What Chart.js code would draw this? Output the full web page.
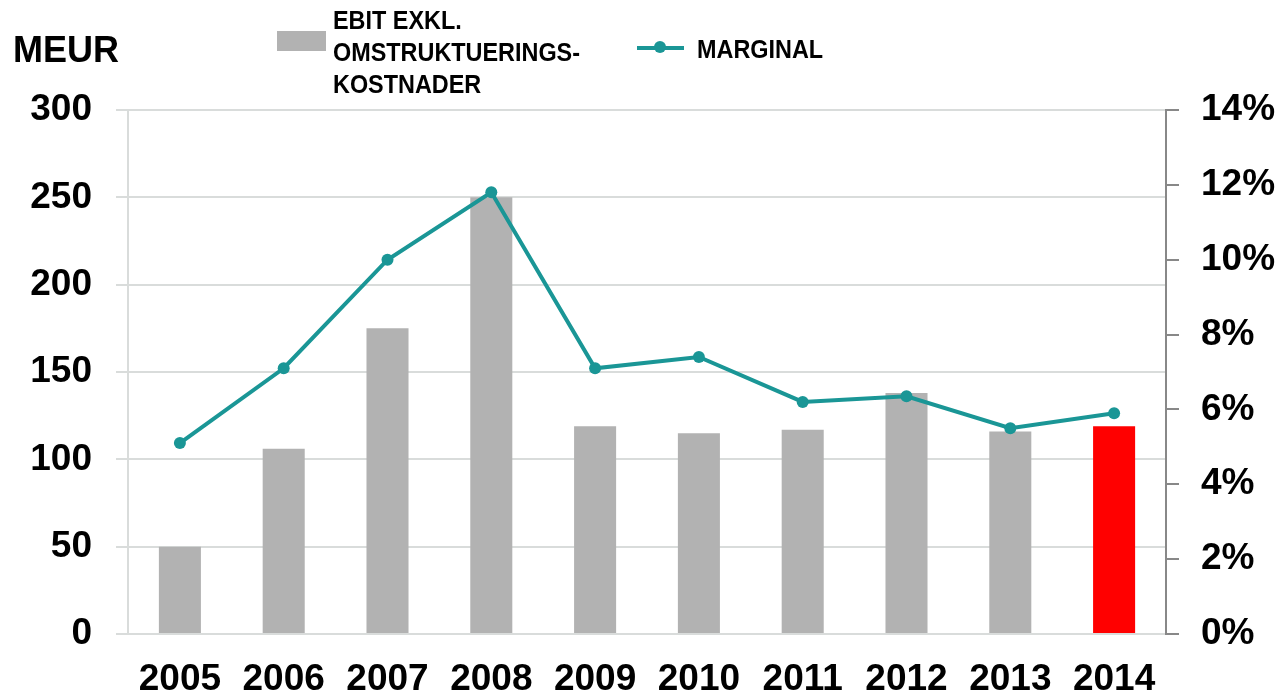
<!DOCTYPE html>
<html lang="sv">
<head>
  <meta charset="UTF-8">
  <title>EBIT och marginal 2005-2014</title>
  <script src="https://cdn.jsdelivr.net/npm/chart.js"></script>
  <style>
    html, body { margin: 0; padding: 0; background: #fff; }
    #wrap { position: relative; width: 1279px; height: 698px; }
  </style>
</head>
<body>
  <div id="wrap">
    <canvas id="myChart" width="1279" height="698"></canvas>
  </div>

  <script>
    // Data
    const years = ['2005', '2006', '2007', '2008', '2009', '2010', '2011', '2012', '2013', '2014'];
    const ebit = [50, 106, 175, 250, 119, 115, 117, 138, 116, 119];
    const margin = [5.1, 7.1, 10.0, 11.8, 7.1, 7.4, 6.2, 6.35, 5.5, 5.9];
    const leftTicks = [0, 50, 100, 150, 200, 250, 300];
    const rightTicks = [0, 2, 4, 6, 8, 10, 12, 14];

    const barGrey = '#b2b2b2';
    const teal = '#1a9696';
    const barColors = years.map((y, i) => i === years.length - 1 ? '#ff0000' : barGrey);

    const tickFont = { family: 'Liberation Sans, Arial, sans-serif', size: 37, weight: 'bold' };

    // Legend and "MEUR" title drawn on the canvas
    const headerPlugin = {
      id: 'header',
      afterDraw(chart) {
        const c = chart.ctx;
        c.save();
        c.fillStyle = '#000';
        c.textBaseline = 'alphabetic';
        c.font = 'bold 36px "Liberation Sans", Arial, sans-serif';
        c.fillText('MEUR', 13, 62);

        // bar legend
        c.fillStyle = barGrey;
        c.fillRect(277, 31, 49, 20);
        c.fillStyle = '#000';
        c.font = 'bold 26px "Liberation Sans", Arial, sans-serif';
        const lines = ['EBIT EXKL.', 'OMSTRUKTUERINGS-', 'KOSTNADER'];
        lines.forEach((t, i) => {
          c.save();
          c.translate(333, 29 + i * 32);
          c.scale(0.9, 1);
          c.fillText(t, 0, 0);
          c.restore();
        });

        // line legend
        c.strokeStyle = teal;
        c.lineWidth = 4;
        c.beginPath();
        c.moveTo(637, 48);
        c.lineTo(684, 48);
        c.stroke();
        c.fillStyle = teal;
        c.beginPath();
        c.arc(660, 47, 6, 0, Math.PI * 2);
        c.fill();
        c.fillStyle = '#000';
        c.save();
        c.translate(697, 58);
        c.scale(0.9, 1);
        c.fillText('MARGINAL', 0, 0);
        c.restore();
        c.restore();
      }
    };

    const ctx = document.getElementById('myChart').getContext('2d');
    const myChart = new Chart(ctx, {
      data: {
        labels: years,
        datasets: [{
          type: 'line',
          label: 'MARGINAL',
          data: margin,
          yAxisID: 'y1',
          borderColor: teal,
          backgroundColor: teal,
          borderWidth: 4,
          pointRadius: 6,
          pointBackgroundColor: teal,
          pointBorderWidth: 0,
          tension: 0,
          order: 0
        }, {
          type: 'bar',
          label: 'EBIT EXKL. OMSTRUKTUERINGSKOSTNADER',
          data: ebit,
          yAxisID: 'y',
          backgroundColor: barColors,
          categoryPercentage: 1,
          barPercentage: 0.405,
          order: 1
        }]
      },
      plugins: [headerPlugin],
      options: {
        responsive: false,
        animation: false,
        layout: { padding: { top: 110, left: 0, right: 0, bottom: 0 } },
        plugins: {
          legend: { display: false },
          tooltip: { enabled: false }
        },
        scales: {
          x: {
            grid: { display: false },
            border: { display: false },
            ticks: { color: '#000', font: tickFont, padding: 16, maxRotation: 0 },
            afterFit: s => { s.height = 64; }
          },
          y: {
            position: 'left',
            min: 0,
            max: 300,
            afterBuildTicks: s => { s.ticks = leftTicks.map(v => ({ value: v })); },
            ticks: { color: '#000', font: tickFont, padding: 24 },
            grid: { color: '#d9dcdb', lineWidth: 2, tickLength: 12 },
            border: { color: '#d9dcdb', width: 2 },
            afterFit: s => { s.width = 128; }
          },
          y1: {
            position: 'right',
            min: 0,
            max: 14,
            afterBuildTicks: s => { s.ticks = rightTicks.map(v => ({ value: v })); },
            ticks: { color: '#000', font: tickFont, padding: 22, callback: v => v + '%' },
            grid: { drawOnChartArea: false, color: '#888', lineWidth: 2, tickLength: 13 },
            border: { color: '#888', width: 2 },
            afterFit: s => { s.width = 113; }
          }
        }
      }
    });
  </script>
</body>
</html>
